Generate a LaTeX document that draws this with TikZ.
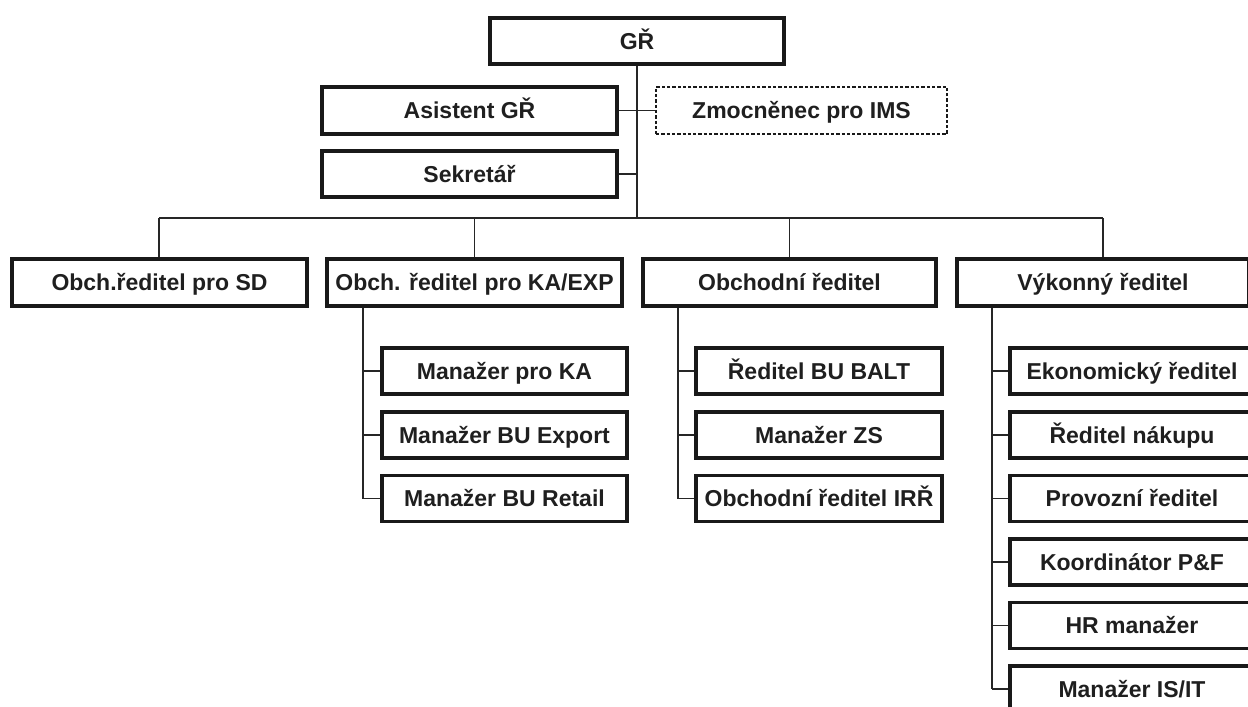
\documentclass[tikz,border=0pt]{standalone}
\usepackage{fontspec}
\setmainfont{Liberation Sans}
\begin{document}
\begin{tikzpicture}[x=1pt,y=-1pt,
  box/.style={draw=black!90, line width=3.3pt, fill=white, inner sep=0pt, minimum height=46pt,
    text height=20pt, text depth=4pt,
    font=\fontsize{23}{27}\selectfont\bfseries, text=black!88},
  dotbox/.style={box, dotted, line width=2.6pt},
  conn/.style={draw=black!85, line width=1.9pt}]
\useasboundingbox (0,0) rectangle (1248,707);
\clip (0,0) rectangle (1248,707);
% top
\node[box, minimum width=294pt] (gr) at (637,41) {GŘ};
\node[box, minimum width=295pt, minimum height=47pt] (asst) at (469.5,110.5) {Asistent GŘ};
\node[dotbox, minimum width=291pt, minimum height=47pt] (zmoc) at (801.5,110.5) {Zmocněnec pro IMS};
\node[box, minimum width=295pt] (sekr) at (469.5,174) {Sekretář};
% level 2
\node[box, minimum width=295pt, minimum height=47pt] (sd) at (159.5,282.5) {Obch.ředitel pro SD};
\node[box, minimum width=295pt, minimum height=47pt] (ka) at (474.5,282.5) {Obch. ředitel pro KA/EXP};
\node[box, minimum width=293pt, minimum height=47pt] (ob) at (789.5,282.5) {Obchodní ředitel};
\node[box, minimum width=292pt, minimum height=47pt] (vy) at (1103,282.5) {Výkonný ředitel};
% KA children
\node[box, minimum width=245pt] (ka1) at (504.5,371) {Manažer pro KA};
\node[box, minimum width=245pt] (ka2) at (504.5,435) {Manažer BU Export};
\node[box, minimum width=245pt] (ka3) at (504.5,498.5) {Manažer BU Retail};
% Obchodni children
\node[box, minimum width=246pt] (ob1) at (819,371) {Ředitel BU BALT};
\node[box, minimum width=246pt] (ob2) at (819,435) {Manažer ZS};
\node[box, minimum width=246pt] (ob3) at (819,498.5) {Obchodní ředitel IRŘ};
% Vykonny children
\node[box, minimum width=244pt] (vy1) at (1132,371) {Ekonomický ředitel};
\node[box, minimum width=244pt] (vy2) at (1132,435) {Ředitel nákupu};
\node[box, minimum width=244pt] (vy3) at (1132,498.5) {Provozní ředitel};
\node[box, minimum width=244pt] (vy4) at (1132,562) {Koordinátor P\&F};
\node[box, minimum width=244pt] (vy5) at (1132,625.5) {HR manažer};
\node[box, minimum width=244pt] (vy6) at (1132,689) {Manažer IS/IT};
% connectors
\coordinate (barL) at (159,218);
\coordinate (barR) at (1103,218);
\coordinate (kat) at (363,0);
\coordinate (obt) at (678,0);
\coordinate (vyt) at (992,0);
\draw[conn] (gr.south) -- (gr.south |- barL);
\draw[conn] (barL) -- (barR);
\draw[conn] (asst.east) -- (zmoc.west);
\draw[conn] (sekr.east) -- (sekr.east -| gr.south);
\draw[conn] (barL) -- (barL |- sd.north);
\draw[conn] (ka.north |- barL) -- (ka.north);
\draw[conn] (ob.north |- barL) -- (ob.north);
\draw[conn] (barR) -- (barR |- vy.north);
\draw[conn] (kat |- ka.south) -- (kat |- ka3.west);
\foreach \c in {ka1,ka2,ka3} \draw[conn] (kat |- \c.west) -- (\c.west);
\draw[conn] (obt |- ob.south) -- (obt |- ob3.west);
\foreach \c in {ob1,ob2,ob3} \draw[conn] (obt |- \c.west) -- (\c.west);
\draw[conn] (vyt |- vy.south) -- (vyt |- vy6.west);
\foreach \c in {vy1,vy2,vy3,vy4,vy5,vy6} \draw[conn] (vyt |- \c.west) -- (\c.west);
\end{tikzpicture}
\end{document}
